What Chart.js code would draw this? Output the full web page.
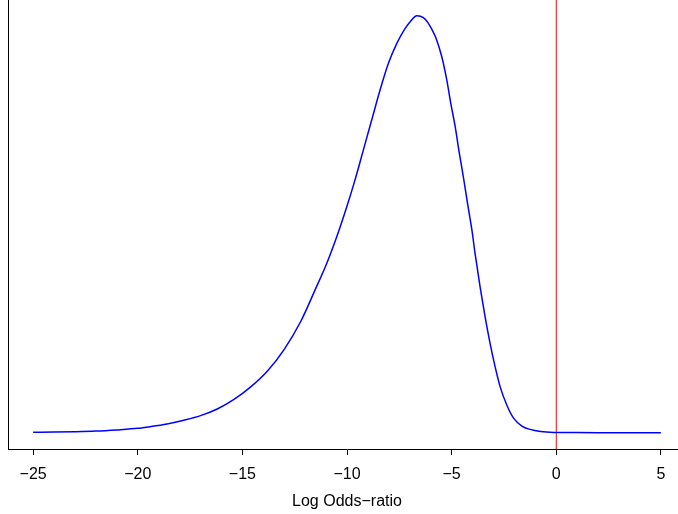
<!DOCTYPE html>
<html>
<head>
<meta charset="utf-8">
<script src="https://cdn.jsdelivr.net/npm/chart.js@4/dist/chart.umd.min.js"></script>
<style>
  html, body { margin: 0; padding: 0; background: #ffffff; overflow: hidden; }
  #wrap { width: 678px; height: 514px; overflow: hidden; }
  canvas { display: block; }
</style>
</head>
<body>
<div id="wrap"><canvas id="c" width="686" height="514"></canvas></div>
<script>
// Data (curve normalised so its peak = 1)
const logOdds = [-25, -24, -23, -22, -21, -20, -19.4, -18.6, -17.8, -17, -16.2, -15.4, -14.6, -13.8, -13, -12.2, -11.53, -10.97, -10.49, -10.01, -9.62, -9.22, -8.82, -8.42, -8.02, -7.62, -7.22, -6.98, -6.66, -6.35, -6.15, -5.95, -5.75, -5.47, -5.23, -5.04, -4.83, -4.63, -4.44, -4.24, -4.03, -3.88, -3.64, -3.40, -3.16, -2.92, -2.68, -2.36, -2.04, -1.64, -1.25, -0.75, -0.1, 1, 2, 3, 4, 5];
const density = [0.001, 0.0016, 0.0025, 0.004, 0.0068, 0.0105, 0.0145, 0.021, 0.03, 0.041, 0.057, 0.08, 0.11, 0.148, 0.2, 0.268, 0.342, 0.406, 0.47, 0.542, 0.606, 0.678, 0.75, 0.822, 0.886, 0.934, 0.97, 0.986, 1.0, 0.996, 0.985, 0.968, 0.947, 0.902, 0.846, 0.79, 0.734, 0.67, 0.614, 0.55, 0.486, 0.43, 0.35, 0.278, 0.214, 0.158, 0.11, 0.066, 0.035, 0.016, 0.008, 0.003, 0.0008, 0.0003, 0.0001, 0, 0, 0];
const xTicks = [-25, -20, -15, -10, -5, 0, 5];
const refLine = 0;
const xTitle = 'Log Odds\u2212ratio';

const X_MIN = -26.2, X_MAX = 6.2;
const Y_MIN = -0.039, Y_MAX = 1.038;

const curve = logOdds.map((x, i) => ({ x: x, y: density[i] }));
const vline = [{ x: refLine, y: Y_MIN }, { x: refLine, y: Y_MAX }];

const fmt = v => (v < 0 ? '\u2212' + Math.abs(v) : String(v));

new Chart(document.getElementById('c'), {
  type: 'line',
  data: {
    datasets: [
      { data: curve, borderColor: '#0000ff', borderWidth: 1.5, pointRadius: 0, fill: false, cubicInterpolationMode: 'monotone' },
      { data: vline, borderColor: '#ff0000', borderWidth: 1, pointRadius: 0, fill: false }
    ]
  },
  options: {
    responsive: false,
    animation: false,
    events: [],
    layout: { padding: 0 },
    plugins: { legend: { display: false }, tooltip: { enabled: false } },
    scales: {
      x: {
        type: 'linear',
        min: X_MIN,
        max: X_MAX,
        afterBuildTicks: s => { s.ticks = xTicks.map(v => ({ value: v })); },
        afterFit: s => { s.height = 65; },
        ticks: {
          autoSkip: false, maxRotation: 0, padding: 10,
          color: '#000000',
          font: { family: 'Liberation Sans, Arial, Helvetica, sans-serif', size: 16 },
          callback: v => fmt(v)
        },
        grid: { display: true, drawOnChartArea: false, drawTicks: true, tickLength: 6, color: '#000000', lineWidth: 1 },
        border: { display: true, color: '#000000', width: 1 },
        title: {
          display: true, text: xTitle, color: '#000000',
          font: { family: 'Liberation Sans, Arial, Helvetica, sans-serif', size: 16 },
          padding: { top: 0, bottom: 3 }
        }
      },
      y: {
        type: 'linear',
        min: Y_MIN,
        max: Y_MAX,
        afterFit: s => { s.width = 8; },
        ticks: { display: false },
        grid: { display: false },
        border: { display: true, color: '#000000', width: 1 }
      }
    }
  }
});
</script>
</body>
</html>
